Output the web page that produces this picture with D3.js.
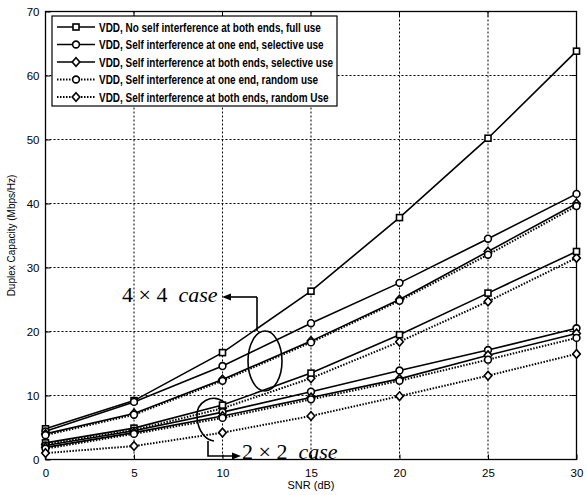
<!DOCTYPE html>
<html><head><meta charset="utf-8">
<script src="https://cdn.jsdelivr.net/npm/d3@7"></script>
<style>body{margin:0;background:#fff}svg{display:block}</style>
</head><body>
<svg id="c" width="587" height="495"></svg>
<script>
const snr = [0, 5, 10, 15, 20, 25, 30];
const xTicks = [0, 5, 10, 15, 20, 25, 30];
const yTicks = [0, 10, 20, 30, 40, 50, 60, 70];
const legendLabels = [
  "VDD, No self interference at both ends, full use",
  "VDD, Self interference at one end, selective use",
  "VDD, Self interference at both ends, selective use",
  "VDD, Self interference at one end, random use",
  "VDD, Self interference at both ends, random Use"
];
const markers = ["square", "circle", "diamond", "circle", "diamond"];
const dashed = [false, false, false, true, true];
// 4x4 case
const c44_full     = [4.8, 9.2, 16.7, 26.3, 37.8, 50.2, 63.8];
const c44_oneSel   = [4.4, 9.0, 14.6, 21.3, 27.6, 34.5, 41.5];
const c44_bothSel  = [4.0, 7.2, 12.5, 18.5, 25.0, 32.5, 40.0];
const c44_oneRand  = [3.8, 7.0, 12.3, 18.3, 24.8, 32.0, 39.6];
const c44_bothRand = [2.4, 4.6, 8.0, 12.7, 18.4, 24.7, 31.5];
// 2x2 case
const c22_full     = [2.6, 4.9, 8.5, 13.5, 19.5, 26.0, 32.5];
const c22_oneSel   = [2.2, 4.5, 7.4, 10.6, 13.9, 17.1, 20.5];
const c22_bothSel  = [1.9, 4.2, 6.8, 9.7, 12.6, 16.3, 19.7];
const c22_oneRand  = [1.7, 4.0, 6.5, 9.4, 12.3, 15.6, 19.0];
const c22_bothRand = [1.0, 2.1, 4.2, 6.8, 9.9, 13.1, 16.5];

const series = [
  {v: c44_full, t: 0}, {v: c44_oneSel, t: 1}, {v: c44_bothSel, t: 2}, {v: c44_oneRand, t: 3}, {v: c44_bothRand, t: 4},
  {v: c22_full, t: 0}, {v: c22_oneSel, t: 1}, {v: c22_bothSel, t: 2}, {v: c22_oneRand, t: 3}, {v: c22_bothRand, t: 4}
];

const svg = d3.select("#c");
const L = 45.5, R = 576.5, T = 11.5, B = 459.5;
const x = d3.scaleLinear().domain([0, 30]).range([L, R]);
const y = d3.scaleLinear().domain([0, 70]).range([B, T]);

// grid
const grid = svg.append("g").attr("stroke", "#000").attr("stroke-width", 1).attr("stroke-dasharray", "2,2");
grid.selectAll(".gx").data(xTicks.slice(1, -1)).enter().append("line")
  .attr("x1", d => x(d)).attr("x2", d => x(d)).attr("y1", T).attr("y2", B);
grid.selectAll(".gy").data(yTicks.slice(1, -1)).enter().append("line")
  .attr("y1", d => y(d)).attr("y2", d => y(d)).attr("x1", L).attr("x2", R);

// axes
const fontTick = "'Liberation Sans Narrow','Arial Narrow','Liberation Sans',Arial,sans-serif";
const xa = svg.append("g").attr("transform", `translate(0,${B})`)
  .call(d3.axisBottom(x).tickValues(xTicks).tickSize(-5).tickPadding(9).tickFormat(d3.format("d")));
const ya = svg.append("g").attr("transform", `translate(${L},0)`)
  .call(d3.axisLeft(y).tickValues(yTicks).tickSize(-5).tickPadding(6).tickFormat(d3.format("d")));
[xa, ya].forEach(a => {
  a.select(".domain").remove();
  a.selectAll("text").attr("font-family", fontTick).attr("font-size", 11.5).attr("fill", "#000");
  a.selectAll("line").attr("stroke", "#000");
});
// top/right ticks
svg.append("g").selectAll("line").data(xTicks).enter().append("line")
  .attr("x1", d => x(d)).attr("x2", d => x(d)).attr("y1", T).attr("y2", T + 5).attr("stroke", "#000");
svg.append("g").selectAll("line").data(yTicks).enter().append("line")
  .attr("y1", d => y(d)).attr("y2", d => y(d)).attr("x1", R).attr("x2", R - 5).attr("stroke", "#000");
svg.append("rect").attr("x", L).attr("y", T).attr("width", R - L).attr("height", B - T)
  .attr("fill", "none").attr("stroke", "#000").attr("stroke-width", 1.3);

// labels
svg.append("text").attr("x", (L + R) / 2).attr("y", 489).attr("text-anchor", "middle")
  .attr("font-family", fontTick).attr("font-size", 11).text("SNR (dB)");
svg.append("text").attr("transform", `translate(15,${(T + B) / 2}) rotate(-90)`).attr("text-anchor", "middle")
  .attr("font-family", fontTick).attr("font-size", 10).text("Duplex Capacity (Mbps/Hz)");

function drawMarker(g, type, cx, cy) {
  if (type === "square") {
    g.append("rect").attr("x", cx - 3).attr("y", cy - 3).attr("width", 6).attr("height", 6);
  } else if (type === "circle") {
    g.append("circle").attr("cx", cx).attr("cy", cy).attr("r", 3.4);
  } else {
    g.append("path").attr("d", `M${cx},${cy - 4.3}L${cx + 3.8},${cy}L${cx},${cy + 4.3}L${cx - 3.8},${cy}Z`);
  }
}
const line = d3.line().x((d, i) => x(snr[i])).y(d => y(d));
series.forEach(s => {
  const g = svg.append("g");
  g.append("path").attr("d", line(s.v)).attr("fill", "none").attr("stroke", "#000")
    .attr("stroke-width", dashed[s.t] ? 2 : 1.6)
    .attr("stroke-dasharray", dashed[s.t] ? "1.5,1.5" : null);
  const mg = g.append("g").attr("fill", "#fff").attr("stroke", "#000").attr("stroke-width", 1.6);
  s.v.forEach((d, i) => drawMarker(mg, markers[s.t], x(snr[i]), y(d)));
});

// legend
const lg = svg.append("g");
const lx = 52, ly = 16, lw = 285, lh = 90, rowH = 17.5;
lg.append("rect").attr("x", lx).attr("y", ly).attr("width", lw).attr("height", lh)
  .attr("fill", "#fff").attr("stroke", "#000").attr("stroke-width", 1.2);
const texts = [];
legendLabels.forEach((lab, i) => {
  const cy = ly + 11 + i * rowH;
  lg.append("line").attr("x1", lx + 5).attr("x2", lx + 43).attr("y1", cy).attr("y2", cy)
    .attr("stroke", "#000").attr("stroke-width", dashed[i] ? 2 : 1.6)
    .attr("stroke-dasharray", dashed[i] ? "1.5,1.5" : null);
  const mg = lg.append("g").attr("fill", "#fff").attr("stroke", "#000").attr("stroke-width", 1.6);
  drawMarker(mg, markers[i], lx + 24, cy);
  texts.push(lg.append("text").attr("x", lx + 47).attr("y", cy + 4.5)
    .attr("font-family", "'Liberation Sans',Arial,sans-serif").attr("font-weight", "bold")
    .attr("font-size", 12).text(lab));
});
const maxLen = d3.max(texts, t => t.node().getComputedTextLength());
const k = 234 / maxLen;
texts.forEach(t => t.attr("textLength", t.node().getComputedTextLength() * k).attr("lengthAdjust", "spacingAndGlyphs"));

// annotations
const ann = svg.append("g").attr("fill", "none").attr("stroke", "#000").attr("stroke-width", 1.6);
// 4x4
svg.append("text").attr("x", 122).attr("y", 302).attr("font-family", "'Liberation Serif','Times New Roman',serif")
  .attr("font-size", 22).html("4 × 4 &#160;<tspan font-style='italic'>case</tspan>");
ann.append("path").attr("d", "M257,297H226");
ann.append("path").attr("d", "M257,297V331");
ann.append("ellipse").attr("cx", 265).attr("cy", 361).attr("rx", 17).attr("ry", 30);
svg.append("path").attr("d", "M222,297L231,293.5L231,300.5Z").attr("fill", "#000");
// 2x2
svg.append("text").attr("x", 242).attr("y", 459).attr("font-family", "'Liberation Serif','Times New Roman',serif")
  .attr("font-size", 22).html("2 × 2 &#160;<tspan font-style='italic'>case</tspan>");
ann.append("path").attr("d", "M224,402C212,393 196,402 197,417C198,432 206,440 214,441");
ann.append("path").attr("d", "M208,441V456H236");
svg.append("path").attr("d", "M241,456L232,452.5L232,459.5Z").attr("fill", "#000");
</script>
</body></html>
